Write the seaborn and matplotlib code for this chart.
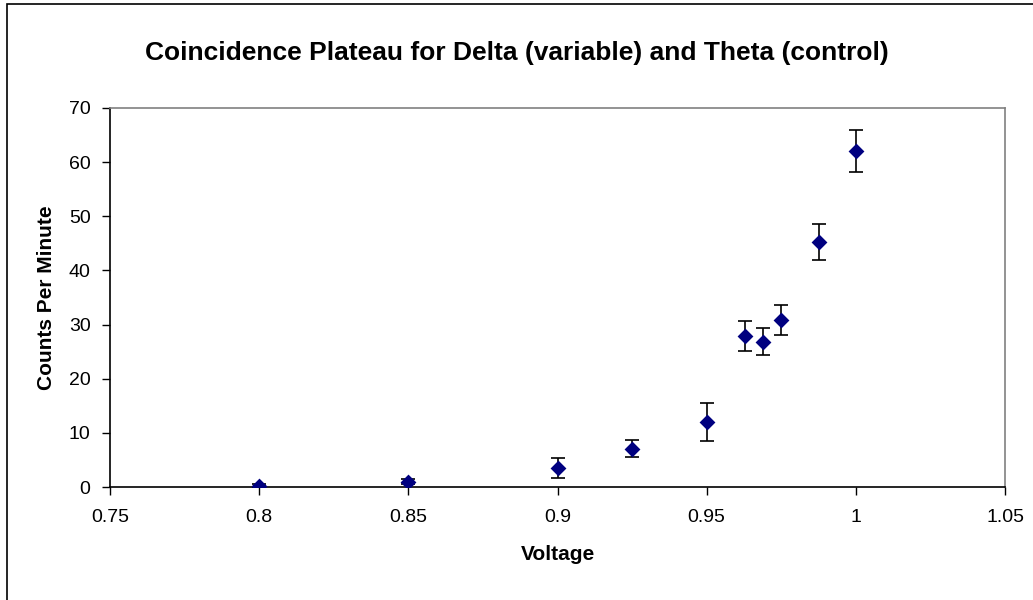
import numpy as np
import pandas as pd
import matplotlib.pyplot as plt
import matplotlib.ticker as mticker
from matplotlib.patches import Rectangle
import seaborn as sns

# データ
voltage = [0.8, 0.85, 0.9, 0.925, 0.95, 0.963, 0.969, 0.975, 0.9875, 1.0]
counts = [0.2, 1.0, 3.5, 7.1, 12.0, 27.9, 26.8, 30.9, 45.2, 62.1]
errors = [0.4, 0.5, 1.9, 1.5, 3.5, 2.7, 2.5, 2.8, 3.3, 3.9]

df = pd.DataFrame({'Voltage': voltage, 'Counts': counts, 'Error': errors})

sns.set_style('white')
plt.rcParams['font.family'] = ['Liberation Sans', 'DejaVu Sans']
plt.rcParams['text.color'] = 'black'
plt.rcParams['axes.labelcolor'] = 'black'

fig = plt.figure(figsize=(10.33, 6), dpi=100)
ax = fig.add_axes([0.1065, 0.1883, 0.8664, 0.6317])

# エラーバー
ax.errorbar(df['Voltage'], df['Counts'], yerr=df['Error'], fmt='none',
            ecolor='black', elinewidth=1.2, capsize=5, capthick=1.2, zorder=2)
# データ点
sns.scatterplot(x='Voltage', y='Counts', data=df, marker='D', s=65,
                color='#000080', edgecolor='#000080', linewidth=0, ax=ax, zorder=3)

ax.set_xlim(0.75, 1.05)
ax.set_ylim(0, 70)
ax.set_xticks(np.arange(0.75, 1.0501, 0.05))
ax.set_yticks(range(0, 71, 10))
ax.xaxis.set_major_formatter(mticker.FuncFormatter(lambda v, p: f'{v:g}'))
ax.tick_params(axis='both', direction='out', length=6, width=1, colors='black',
               labelsize=14, bottom=True, left=True)
ax.tick_params(axis='x', pad=10)
ax.tick_params(axis='y', pad=8)

for side in ['left', 'bottom']:
    ax.spines[side].set_color('black')
    ax.spines[side].set_linewidth(1.2)
for side in ['top', 'right']:
    ax.spines[side].set_color('#808080')
    ax.spines[side].set_linewidth(1.2)

ax.set_xlabel('Voltage', fontsize=15, fontweight='bold')
ax.set_ylabel('Counts Per Minute', fontsize=15, fontweight='bold')
ax.xaxis.set_label_coords(0.5, -0.152)
ax.yaxis.set_label_coords(-0.06, 0.5)

fig.text(0.5, 0.9, 'Coincidence Plateau for Delta (variable) and Theta (control)',
         ha='center', va='baseline', fontsize=19, fontweight='bold')

# 外枠
fig.patches.append(Rectangle((7 / 1033, -0.1), 2, 1 - 4 / 600 + 0.1,
                             transform=fig.transFigure, fill=False,
                             edgecolor='black', linewidth=1.2))

fig.savefig('out.png', dpi=100)
